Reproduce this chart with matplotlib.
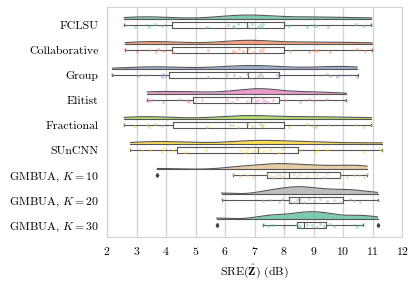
import numpy as np
import matplotlib.pyplot as plt

plt.rcParams['font.family'] = 'serif'
plt.rcParams['font.serif'] = ['cmr10']
plt.rcParams['mathtext.fontset'] = 'cm'
plt.rcParams['axes.formatter.use_mathtext'] = True

methods = ["FCLSU", "Collaborative", "Group", "Elitist", "Fractional", "SUnCNN",
           r"GMBUA, $K=10$", r"GMBUA, $K=20$", r"GMBUA, $K=30$"]
colors = ["#66c2a5", "#fc8d62", "#8da0cb", "#e78ac3", "#a6d854", "#ffd92f",
          "#e5c494", "#b3b3b3", "#66c2a5"]

# SRE values (dB) per method
fclsu = [2.58, 2.94, 3.34, 3.43, 3.62, 3.85, 5.40, 6.11, 6.26, 6.31, 6.43, 6.73, 6.90,
         7.13, 7.19, 7.24, 7.30, 8.18, 8.77, 9.00, 9.09, 9.49, 10.45, 10.70, 10.96]
collab = [2.61, 3.00, 3.43, 3.65, 3.73, 3.88, 4.24, 5.43, 6.26, 6.34, 6.48, 6.62, 6.79,
          6.94, 7.19, 7.24, 7.30, 8.21, 8.83, 9.06, 9.11, 9.54, 10.47, 10.75, 10.98]
group = [2.18, 3.05, 3.31, 3.85, 3.90, 3.96, 5.43, 6.05, 6.31, 6.51, 6.73, 7.13, 7.19,
         7.24, 7.75, 7.81, 9.45, 9.57, 9.79, 9.85, 10.24, 10.47]
elitist = [3.36, 3.43, 3.51, 3.90, 4.47, 4.72, 4.79, 5.21, 6.05, 6.22, 6.39, 6.73, 6.90,
           7.05, 7.13, 7.24, 7.30, 7.36, 7.47, 7.64, 8.04, 8.55, 8.83, 9.00, 9.45, 10.11]
fractional = [2.58, 2.94, 3.34, 3.43, 3.62, 3.85, 5.40, 6.17, 6.28, 6.43, 6.79, 6.90,
              7.19, 7.24, 7.30, 8.18, 8.77, 9.00, 9.09, 9.49, 10.45, 10.70, 10.96]
suncnn = [2.79, 3.17, 3.45, 3.85, 3.90, 4.24, 4.64, 5.35, 6.51, 6.68, 6.79, 6.96, 7.13,
          7.30, 7.53, 7.81, 7.92, 8.55, 9.06, 9.11, 9.45, 10.70, 11.26, 11.32]
gmbua10 = [6.28, 6.51, 6.73, 6.96, 7.41, 7.53, 7.64, 7.75, 7.87, 7.92, 8.32, 8.43, 8.55,
           8.77, 9.11, 9.34, 9.45, 9.90, 10.13, 10.36, 10.53, 10.70, 10.81]
gmbua20 = [5.88, 7.30, 7.53, 7.81, 7.92, 8.21, 8.32, 8.43, 8.55, 8.66, 8.83, 9.00, 9.23,
           9.45, 9.68, 9.90, 10.24, 10.36, 10.58, 11.17]
gmbua30 = [7.30, 7.47, 7.64, 7.98, 8.43, 8.49, 8.54, 8.77, 8.94, 9.11, 9.22, 9.34, 9.56,
           9.68, 10.41, 10.47, 10.67]
values = [fclsu, collab, group, elitist, fractional, suncnn, gmbua10, gmbua20, gmbua30]

# box statistics: whisker low, q1, median, q3, whisker high
whislo = [2.58, 2.61, 2.18, 3.36, 2.58, 2.79, 6.28, 5.88, 7.30]
q1 = [4.21, 4.21, 4.11, 4.92, 4.22, 4.36, 7.41, 8.15, 8.43]
med = [6.75, 6.75, 6.79, 6.87, 6.73, 7.10, 8.18, 8.52, 8.68]
q3 = [7.98, 8.00, 7.84, 7.84, 7.98, 8.46, 9.88, 10.00, 9.42]
whishi = [10.96, 10.98, 10.50, 10.11, 10.96, 11.32, 10.81, 11.17, 10.67]
fliers = [[], [], [], [], [], [], [3.70], [], [5.71, 11.17]]

jitter = [-0.05, 0.04, -0.01, 0.07, -0.07, 0.02, 0.05, -0.03, 0.0, 0.06, -0.06, 0.03]


def kde(data, grid, adjust=0.6):
    data = np.asarray(data)
    bw = data.std(ddof=1) * len(data) ** (-0.2) * adjust
    z = (grid[:, None] - data[None, :]) / bw
    return np.exp(-0.5 * z ** 2).sum(axis=1) / (len(data) * bw * np.sqrt(2 * np.pi))


fig = plt.figure(figsize=(4.15, 2.82), dpi=100)
ax = fig.add_axes([0.258, 0.16, 0.711, 0.815])

curves = []
for i in range(len(methods)):
    allv = np.array(values[i] + fliers[i])
    grid = np.linspace(allv.min(), allv.max(), 300)
    curves.append((grid, kde(allv, grid)))
dmax = max(c[1].max() for c in curves)

for i, (grid, dens) in enumerate(curves):
    base = i - 0.23
    h = dens / dmax * 0.30
    ax.fill_between(grid, base, base - h, color=colors[i], alpha=0.85, lw=0, zorder=2)
    ax.plot(grid, base - h, color="#555555", lw=0.8, zorder=3)
    ax.plot(grid, np.full_like(grid, base), color="#555555", lw=0.8, zorder=3)

    v = np.array(values[i])
    jy = np.array([jitter[k % len(jitter)] for k in range(len(v))])
    ax.scatter(v, i + 0.02 + jy, s=5, color=colors[i], alpha=0.45, lw=0, zorder=4)

stats = []
for i in range(len(methods)):
    stats.append(dict(whislo=whislo[i], q1=q1[i], med=med[i], q3=q3[i],
                      whishi=whishi[i], fliers=fliers[i]))
ax.bxp(stats, positions=range(len(methods)), widths=0.21, orientation='horizontal',
       showfliers=True, capwidths=0.08,
       boxprops=dict(color="#555555", lw=0.8),
       medianprops=dict(color="#555555", lw=0.8),
       whiskerprops=dict(color="#555555", lw=0.8),
       capprops=dict(color="#555555", lw=0.8),
       flierprops=dict(marker='d', markersize=2, markerfacecolor="#444444",
                       markeredgecolor="#444444"))

ax.set_xlim(2, 12)
ax.set_ylim(8.48, -0.72)
ax.set_xticks(range(2, 13))
ax.set_yticks(range(len(methods)))
ax.set_yticklabels(methods)
ax.grid(axis='x', color="#d3d3d3", lw=1)
ax.set_axisbelow(True)
for s in ax.spines.values():
    s.set_color("#d3d3d3")
ax.tick_params(length=0, labelsize=8.5, pad=6)
ax.set_xlabel(r"SRE($\hat{\mathbf{Z}}$) (dB)", fontsize=8.5)

fig.savefig("out.png", dpi=100)
